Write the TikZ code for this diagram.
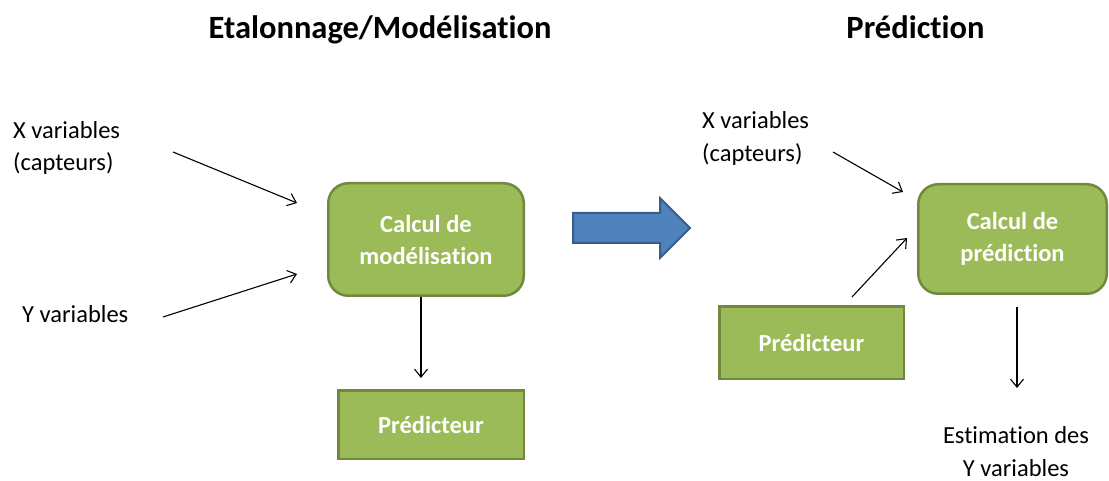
\documentclass[tikz,border=0pt]{standalone}
\usepackage{fontspec}
\setmainfont{Carlito}[Ligatures={NoCommon}]
\usetikzlibrary{arrows.meta}
\definecolor{gfill}{HTML}{9BBB59}
\definecolor{gline}{HTML}{71893F}
\definecolor{bfill}{HTML}{4F81BD}
\definecolor{bline}{HTML}{385D8A}
\begin{document}
\begin{tikzpicture}[x=1pt,y=-1pt,
  greenbox/.style={draw=gline, fill=gfill, line width=2.5pt, text=white,
    font=\bfseries\fontsize{24.5}{32}\selectfont, align=center, inner sep=0pt},
  roundbox/.style={greenbox, rounded corners=20pt},
  plain/.style={font=\fontsize{24.5}{32.5}\selectfont, inner sep=0pt},
  titletext/.style={font=\bfseries\fontsize{32.5}{36}\selectfont, inner sep=0pt},
  conn/.style={line width=1.1pt, -{Straight Barb[length=8pt,width=13pt]}},
  bigarrow/.style={draw=bline, fill=bfill, line width=2pt, line join=miter}]
\useasboundingbox (0,0) rectangle (1109,481);

% titles
\node[titletext, anchor=base] (t1) at (380,38.5) {Etalonnage/Modélisation};
\node[titletext, anchor=base] (t2) at (915.5,39) {Prédiction};

% boxes
\node[roundbox, minimum width=195.5pt, minimum height=112.5pt] (calcM) at (426,239.5) {Calcul de\\modélisation};
\node[greenbox, minimum width=185.5pt, minimum height=68.5pt] (predL) at (431,424.5) {Prédicteur};
\node[roundbox, minimum width=188.5pt, minimum height=109.5pt] (calcP) at (1012.5,239) {Calcul de\\prédiction};
\node[greenbox, minimum width=184.5pt, minimum height=72.5pt] (predR) at (811.5,342.5) {Prédicteur};

% plain texts (base anchor = last line)
\node[plain, anchor=base west, align=left] (xl) at (13,171) {X variables\\(capteurs)};
\node[plain, anchor=base west] (yl) at (22,323) {Y variables};
\node[plain, anchor=base west, align=left] (xr) at (702,161.5) {X variables\\(capteurs)};
\node[plain, anchor=base, align=center] (est) at (1016,476) {Estimation des\\Y variables};

% big blue arrow
\draw[bigarrow] (573,213) -- (660,213) -- (660,198) -- (690,228) -- (660,258) -- (660,243) -- (573,243) -- cycle;

% connector end points
\coordinate (xlS) at (173,152);
\coordinate (xlE) at (297,203);
\coordinate (ylS) at (163,317);
\coordinate (ylE) at (297,274);
\coordinate (dLS) at (421,297);
\coordinate (dLE) at (421,378);
\coordinate (xrS) at (833,152);
\coordinate (xrE) at (903,192);
\coordinate (prS) at (852,297);
\coordinate (prE) at (907,238);
\coordinate (dRS) at (1017,307);
\coordinate (dRE) at (1017,388);

\draw[conn] (xlS) -- (xlE);
\draw[conn] (ylS) -- (ylE);
\draw[conn] (dLS) -- (dLE);
\draw[conn] (xrS) -- (xrE);
\draw[conn] (prS) -- (prE);
\draw[conn] (dRS) -- (dRE);
\end{tikzpicture}
\end{document}
